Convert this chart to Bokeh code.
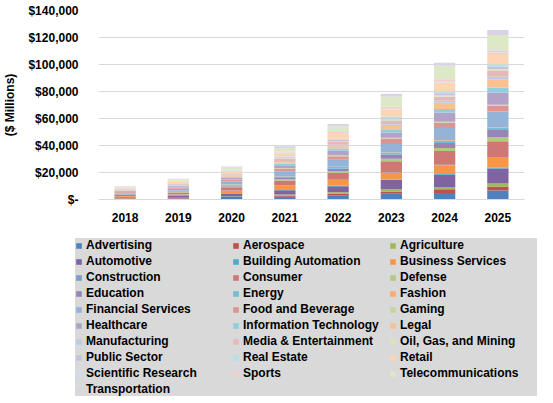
from bokeh.plotting import figure
from bokeh.layouts import column, row
from bokeh.models import FactorRange, Range1d, FixedTicker, Legend, LegendItem
from bokeh.embed import file_html
from bokeh.resources import INLINE

years = ["2018", "2019", "2020", "2021", "2022", "2023", "2024", "2025"]

industries = ["Advertising", "Aerospace", "Agriculture", "Automotive",
              "Building Automation", "Business Services", "Construction",
              "Consumer", "Defense", "Education", "Energy", "Fashion",
              "Financial Services", "Food and Beverage", "Gaming", "Healthcare",
              "Information Technology", "Legal", "Manufacturing",
              "Media & Entertainment", "Oil, Gas, and Mining", "Public Sector",
              "Real Estate", "Retail", "Scientific Research", "Sports",
              "Telecommunications", "Transportation"]

# $ millions per year, 2018..2025
advertising = [450, 700, 1200, 2000, 3200, 4200, 4900, 6700]
aerospace = [250, 400, 600, 1000, 1200, 1700, 2700, 3000]
agriculture = [150, 250, 400, 700, 1000, 1700, 1700, 2200]
automotive = [750, 1200, 2300, 3200, 4500, 6900, 9100, 11100]
building_automation = [80, 100, 150, 200, 300, 400, 500, 500]
business_services = [700, 1100, 1800, 3000, 4200, 4900, 6400, 7200]
construction = [80, 100, 150, 200, 300, 400, 500, 500]
consumer = [900, 1400, 2500, 3700, 5200, 8200, 10100, 11900]
defense = [250, 400, 600, 1000, 1200, 1700, 2200, 3200]
education = [250, 400, 600, 1000, 1700, 3200, 3700, 5200]
energy = [250, 400, 600, 1000, 1200, 1200, 1500, 1500]
fashion = [80, 100, 150, 200, 300, 400, 500, 500]
financial_services = [900, 1400, 2200, 3700, 5200, 6200, 9100, 11600]
food_beverage = [500, 800, 1200, 2000, 2500, 4000, 4000, 4400]
gaming = [150, 200, 300, 500, 700, 700, 700, 700]
healthcare = [550, 800, 1200, 2000, 3500, 3700, 6700, 8900]
information_technology = [250, 400, 600, 1000, 1500, 2500, 2700, 3700]
legal = [300, 450, 700, 1200, 1700, 2500, 4700, 6200]
manufacturing = [300, 400, 600, 1000, 1200, 1200, 1500, 2000]
media = [400, 600, 900, 1500, 2000, 2500, 3000, 4200]
oil_gas_mining = [150, 200, 300, 500, 700, 1000, 1000, 1200]
public_sector = [200, 300, 450, 700, 1000, 1000, 1500, 2000]
real_estate = [150, 200, 300, 500, 700, 1200, 1500, 1700]
retail = [650, 1000, 1500, 2500, 3500, 5400, 6400, 7700]
scientific_research = [150, 200, 300, 500, 500, 700, 700, 1000]
sports = [200, 300, 450, 700, 1000, 1200, 1700, 1700]
telecommunications = [700, 1100, 1700, 2700, 4200, 7400, 10100, 11400]
transportation = [350, 500, 750, 1200, 1700, 2200, 2200, 3700]

series = [advertising, aerospace, agriculture, automotive, building_automation,
          business_services, construction, consumer, defense, education, energy,
          fashion, financial_services, food_beverage, gaming, healthcare,
          information_technology, legal, manufacturing, media, oil_gas_mining,
          public_sector, real_estate, retail, scientific_research, sports,
          telecommunications, transportation]

y_ticks = [0, 20000, 40000, 60000, 80000, 100000, 120000, 140000]
y_tick_labels = ["$-", "$20,000", "$40,000", "$60,000", "$80,000",
                 "$100,000", "$120,000", "$140,000"]

colors = ["#4F81BD", "#C0504D", "#9BBB59", "#8064A2", "#4BACC6", "#F79646",
          "#7C9CCA", "#CF7775", "#B0CA7E", "#9A84B6", "#73BED3", "#F8AC6E",
          "#95B3D7", "#D99694", "#C3D69B", "#B3A2C7", "#93CDDD", "#FAC090",
          "#B9CDE5", "#E6B9B8", "#D7E4BD", "#CCC1DA", "#B7DEE8", "#FCD5B5",
          "#CFDCEC", "#EDCFCE", "#DDE8C6", "#DAD3E5"]

FONT = "Liberation Sans"

data = {"years": years}
for name, vals in zip(industries, series):
    data[name] = vals

p = figure(x_range=FactorRange(*years), y_range=Range1d(0, 140000),
           width=537, height=224, output_backend="svg",
           toolbar_location=None, tools="",
           min_border_left=89, min_border_right=13, min_border_top=10,
           min_border_bottom=25)

p.vbar_stack(industries, x="years", width=0.4, color=colors,
             line_color=None, source=data)

p.outline_line_color = None
p.xgrid.grid_line_color = None
p.ygrid.grid_line_color = "#D9D9D9"
p.ygrid.ticker = FixedTicker(ticks=y_ticks)

p.yaxis.ticker = FixedTicker(ticks=y_ticks)
p.yaxis.major_label_overrides = dict(zip(y_ticks, y_tick_labels))
p.yaxis.axis_line_color = None
p.yaxis.major_tick_line_color = None
p.yaxis.minor_tick_line_color = None
p.yaxis.major_label_standoff = 14
p.yaxis.axis_label = "($ Millions)"
p.yaxis.axis_label_standoff = 8
p.yaxis.axis_label_text_font = FONT
p.yaxis.axis_label_text_font_style = "bold"
p.yaxis.axis_label_text_font_size = "12px"
p.yaxis.axis_label_text_color = "#000000"

p.xaxis.axis_line_color = "#D9D9D9"
p.xaxis.major_tick_line_color = None
p.xaxis.major_label_standoff = 7

for ax in (p.xaxis, p.yaxis):
    ax.major_label_text_font = FONT
    ax.major_label_text_font_style = "bold"
    ax.major_label_text_font_size = "12px"
    ax.major_label_text_color = "#000000"

# legend lives in its own strip under the chart; its bars sit out of view
lg = figure(x_range=FactorRange(*years), y_range=Range1d(1e6, 2e6),
            width=537, height=172, output_backend="svg",
            toolbar_location=None, tools="",
            x_axis_location=None, y_axis_location=None,
            min_border_left=0, min_border_right=0, min_border_top=0,
            min_border_bottom=0)
lg.grid.grid_line_color = None
lg.outline_line_color = None
lg_renderers = lg.vbar_stack(industries, x="years", width=0.4, color=colors,
                             line_color=None, source=data)

items = [LegendItem(label=name, renderers=[r]) for name, r in zip(industries, lg_renderers)]
legend = Legend(items=items, orientation="horizontal", ncols=3, location=(75, 0),
                background_fill_color="#D9D9D9", background_fill_alpha=1.0,
                border_line_color=None, padding=0, spacing=2, margin=0,
                glyph_width=7, glyph_height=7, label_standoff=4,
                label_width=144, label_height=14,
                label_text_font=FONT, label_text_font_style="bold",
                label_text_font_size="12px", label_text_color="#000000")
lg.add_layout(legend, "center")

layout = column(p, row(lg, spacing=0), spacing=0)
open("out.html", "w").write(file_html(layout, INLINE))
